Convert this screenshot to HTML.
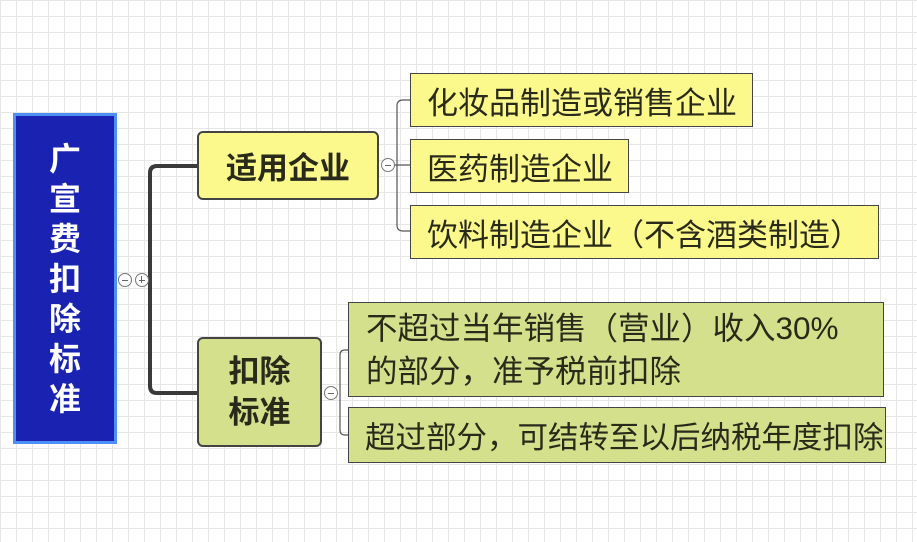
<!DOCTYPE html>
<html><head><meta charset="utf-8"><style>
body{margin:0;width:917px;height:542px;overflow:hidden;background:#fff;
background-image:linear-gradient(#e6e6e6 1px,transparent 1px),linear-gradient(90deg,#e6e6e6 1px,transparent 1px);background-size:16px 16px;
font-family:"Liberation Sans","Noto Sans CJK SC",sans-serif;position:relative}
.n{position:absolute;box-sizing:border-box;display:flex;align-items:center;color:#2a2a1a}
.y{background:#fbf98c;border:1.5px solid #444}
.g{background:#d4e08c;border:1.5px solid #444}
.c{position:absolute;width:14px;height:14px;border:1px solid #777;border-radius:50%;background:#fff;box-sizing:border-box}
.c:after{content:"";position:absolute;left:3px;top:6px;width:6px;height:1px;background:#666}
</style></head><body>
<div class="n" style="left:13px;top:113px;width:104px;height:331px;background:#1a22b2;border:3px solid #4d8ff2;color:#fff;font-weight:bold;font-size:32px;line-height:40px;justify-content:center;text-align:center">广<br>宣<br>费<br>扣<br>除<br>标<br>准</div>
<svg style="position:absolute;left:0;top:0" width="917" height="542">
<path d="M197 166 H157 Q150 166 150 173 V386 Q150 393 157 393 H197" fill="none" stroke="#3a3a3a" stroke-width="4"/>
<path d="M410 100 H403 Q397 100 397 106 V225 Q397 231 403 231 H410 M394 165 H410" fill="none" stroke="#555" stroke-width="1.2"/>
<path d="M350 350 H345 Q340 350 340 355 V430 Q340 435 345 435 H350" fill="none" stroke="#555" stroke-width="1.2"/>
</svg>
<div class="c" style="left:118px;top:273px"></div>
<div class="c" style="left:135px;top:273px"></div>
<div style="position:absolute;left:141px;top:276px;width:1px;height:7px;background:#666"></div>
<div class="c" style="left:381px;top:158px"></div>
<div class="c" style="left:324px;top:386px"></div>
<div class="n y" style="left:197px;top:131px;width:182px;height:69px;border-radius:6px;border-width:2px;font-size:31px;font-weight:bold;justify-content:center">适用企业</div>
<div class="n g" style="left:197px;top:337px;width:125px;height:110px;border-radius:6px;border-width:2px;font-size:31px;font-weight:bold;justify-content:center;text-align:center;line-height:41px">扣除<br>标准</div>
<div class="n y" style="left:410px;top:73px;width:343px;height:54px;font-size:31px;padding-left:16px">化妆品制造或销售企业</div>
<div class="n y" style="left:410px;top:139px;width:219px;height:54px;font-size:31px;padding-left:16px">医药制造企业</div>
<div class="n y" style="left:410px;top:205px;width:469px;height:54px;font-size:31px;padding-left:16px">饮料制造企业（不含酒类制造）</div>
<div class="n g" style="left:348px;top:302px;width:536px;height:95px;font-size:31.5px;padding-left:17px;line-height:43px">不超过当年销售（营业）收入30%<br>的部分，准予税前扣除</div>
<div class="n g" style="left:348px;top:407px;width:538px;height:56px;font-size:30.5px;padding-left:16px;white-space:nowrap">超过部分，可结转至以后纳税年度扣除</div>
</body></html>
